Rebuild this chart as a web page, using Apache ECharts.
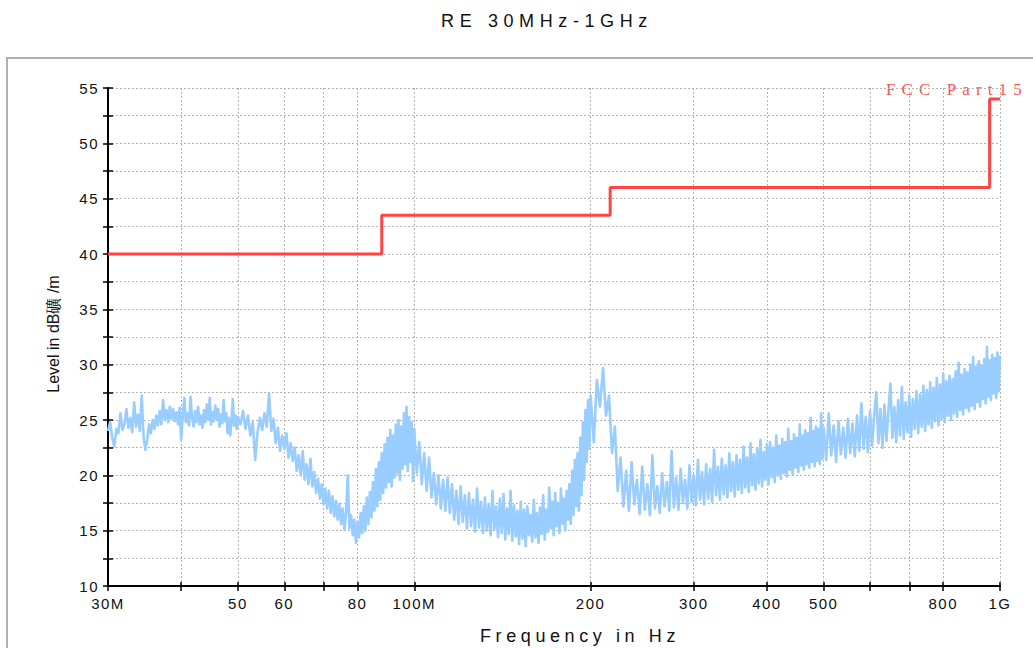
<!DOCTYPE html>
<html>
<head>
<meta charset="utf-8">
<script src="https://cdn.jsdelivr.net/npm/echarts@6/dist/echarts.min.js"></script>
<style>
  html, body { margin: 0; padding: 0; background: #fff; }
  #chart { width: 1033px; height: 648px; }
  #chart text[style*="15px"] { letter-spacing: 1.5px; }
  #chart text[style*="18px"][style*="Arial"] { letter-spacing: 5.6px; }
  #chart text[style*="Liberation Sans"] { letter-spacing: 4.6px; }
  #chart text[style*="Liberation Serif"] { letter-spacing: 6.1px; }
</style>
</head>
<body>
<div id="chart"></div>
<script>
// ---------------- data ----------------
const chartTitle = 'RE 30MHz-1GHz';
const xAxisName = 'Frequency in Hz';
const yAxisName = 'Level in dB礦 /m';
const limitName = 'FCC Part15';

// x axis ticks / labels (MHz)
const xTickMHz = [30, 40, 50, 60, 70, 80, 100, 200, 300, 400, 500, 600, 700, 800, 1000];
const xLabelMHz = [30, 50, 60, 80, 100, 200, 300, 400, 500, 800, 1000];
const xLabelText = ['30M', '50', '60', '80', '100M', '200', '300', '400', '500', '800', '1G'];

// y axis
const yMin = 10, yMax = 55, yStep = 2.5;

// FCC Part15 limit (step line, MHz / dBuV/m)
const limitFreqMHz = [30, 88, 216, 960, 1000];
const limitLevel = [40, 43.5, 46, 54, 54];

const levels30to50 = [
  24.0, 24.8, 23.4, 22.6, 24.2, 23.8, 25.6, 24.1, 24.6, 26.0, 24.3, 25.2, 23.9, 26.6, 24.4, 25.5,
  24.0, 27.2, 23.5, 22.3, 23.2, 24.6, 23.8, 25.0, 24.2, 25.4, 24.5, 25.8, 24.6, 26.8, 25.0, 25.9,
  24.8, 26.2, 25.1, 26.0, 24.9, 25.7, 24.6, 26.1, 23.2, 25.3, 27.0, 24.8, 25.6, 24.5, 27.1, 25.2,
  24.4, 25.8, 24.8, 26.2, 24.6, 25.4, 24.3, 25.9, 24.8, 26.4, 25.0, 27.0, 24.6, 25.7, 24.9, 26.3,
  25.1, 26.0, 24.4, 25.5, 24.7, 26.8, 24.9, 25.6, 23.8, 25.2, 23.6, 24.9, 26.9, 24.5, 25.4, 24.2,
  25.3
];
const levels50to100 = [
  24.6, 25.8, 24.2, 25.4, 23.6, 24.8, 21.4, 23.9, 25.2, 24.1, 25.6, 24.4, 27.4, 24.0, 25.1, 22.9,
  24.3, 22.2, 23.6, 22.4, 23.8, 21.6, 22.9, 21.3, 22.5, 20.4, 21.8, 20.0, 22.2, 19.6, 21.0, 19.2,
  21.5, 19.0, 20.3, 18.4, 19.7, 17.9, 19.2, 17.4, 18.8, 17.0, 18.6, 16.6, 18.1, 16.3, 17.7, 16.0,
  17.4, 15.6, 17.0, 15.1, 16.6, 20.0, 15.2, 16.4, 14.6, 16.0, 13.9, 15.8, 14.4, 16.6, 14.8, 17.2,
  15.0, 18.0, 15.6, 18.5, 16.2, 19.4, 16.8, 20.6, 17.2, 21.2, 17.8, 22.0, 18.4, 22.8, 18.9, 23.4,
  19.4, 24.1, 19.0, 23.6, 19.8, 24.6, 20.2, 25.0, 19.6, 24.4, 20.6, 25.6, 21.0, 26.2, 20.4, 25.3,
  21.2, 24.8, 19.5, 24.2
];
const levels100to200 = [
  20.2, 23.0, 19.2, 22.0, 18.6, 21.6, 18.0, 20.2, 17.4, 20.0, 17.0, 19.6, 16.8, 19.8, 16.6, 19.2,
  16.0, 18.6, 15.6, 19.0, 15.8, 18.2, 15.2, 18.4, 15.4, 17.8, 14.9, 18.8, 15.3, 17.6, 14.8, 18.0,
  15.0, 17.4, 14.6, 18.6, 15.1, 17.2, 14.4, 17.9, 14.8, 18.3, 14.2, 17.0, 14.7, 18.6, 14.1, 17.3,
  14.5, 16.8, 13.8, 17.6, 14.3, 16.9, 13.6, 17.2, 14.6, 16.4, 14.0, 17.8, 14.4, 16.6, 13.9, 17.1,
  14.7, 18.2, 14.2, 16.9, 14.9, 18.9, 15.2, 17.6, 14.6, 18.4, 15.4, 17.5, 14.8, 18.8, 15.6, 17.9,
  15.0, 18.6, 16.0, 19.2, 15.6, 20.4, 16.4, 21.4, 17.2, 22.0, 16.8, 23.4, 18.2, 24.8, 19.6, 25.9,
  21.2, 26.8, 22.4, 27.2
];
const levels200to500 = [
  23.0, 28.6, 26.2, 29.7, 25.4, 27.2, 22.0, 24.4, 18.6, 21.6, 17.2, 20.4, 16.8, 21.2, 17.4, 19.6,
  16.5, 20.8, 16.9, 19.2, 16.4, 21.8, 17.0, 19.0, 16.6, 20.2, 17.2, 19.4, 16.8, 22.2, 17.1, 19.8,
  16.9, 20.6, 17.5, 19.6, 17.0, 20.9, 17.6, 20.0, 17.3, 21.4, 17.8, 20.3, 17.4, 21.0, 17.9, 20.6,
  17.6, 22.3, 18.2, 20.8, 17.8, 21.5, 18.3, 20.9, 18.0, 22.0, 18.6, 21.2, 18.1, 21.8, 18.7, 21.4,
  18.4, 22.6, 18.9, 21.6, 18.5, 22.9, 19.1, 21.9, 18.7, 22.4, 19.3, 23.2, 19.0, 22.1, 19.6, 22.8,
  19.2, 23.0, 19.8, 22.5, 19.4, 23.6, 20.0, 22.7, 19.7, 23.3, 20.2, 23.0, 19.9, 24.2, 20.5, 23.1,
  20.1, 23.7, 20.7, 23.4, 20.3, 24.6, 20.9, 23.6, 20.5, 24.1, 21.0, 23.8, 20.7, 25.2, 21.2, 24.0,
  20.8, 24.4, 21.3, 24.2, 21.0, 25.6, 21.5, 24.3
];
const levels500to1000 = [
  21.4, 25.6, 21.8, 24.5, 21.2, 24.9, 21.9, 24.3, 21.6, 25.1, 22.0, 24.7, 21.7, 25.4, 22.2, 26.5,
  22.4, 25.3, 22.1, 25.8, 22.7, 25.5, 27.5, 22.9, 26.0, 22.5, 26.4, 23.1, 25.9, 28.3, 23.4, 26.2,
  23.0, 26.8, 23.6, 28.0, 23.3, 26.6, 23.9, 27.2, 23.5, 26.9, 24.2, 27.6, 23.8, 27.3, 24.4, 28.1,
  24.0, 27.7, 24.6, 28.4, 24.3, 27.9, 24.9, 28.8, 24.5, 28.2, 25.1, 29.2, 24.8, 28.5, 25.4, 29.0,
  25.0, 28.7, 25.6, 29.4, 25.3, 30.2, 25.9, 29.1, 25.5, 29.6, 26.1, 29.3, 25.8, 30.0, 26.3, 30.7,
  26.0, 29.8, 26.6, 30.3, 26.2, 29.9, 26.9, 30.5, 26.5, 31.6, 27.1, 30.4, 26.8, 30.9, 27.4, 30.6,
  27.0, 31.1, 27.6, 30.8
];
const sweepSegments = [
  { startMHz: 30, stepMHz: 0.25, levels: levels30to50 },
  { startMHz: 50.5, stepMHz: 0.5, levels: levels50to100 },
  { startMHz: 101, stepMHz: 1, levels: levels100to200 },
  { startMHz: 202.5, stepMHz: 2.5, levels: levels200to500 },
  { startMHz: 505, stepMHz: 5, levels: levels500to1000 }
];

// ---------------- build ----------------
const lg = Math.log10;
const traceData = [];
sweepSegments.forEach(seg => {
  seg.levels.forEach((v, i) => traceData.push([lg(seg.startMHz + i * seg.stepMHz), v]));
});
const limitData = limitFreqMHz.map((f, i) => [lg(f), limitLevel[i]]);

const gridLine = { show: true, lineStyle: { color: '#b4b4b4', width: 1, type: [2, 2] } };

const chart = echarts.init(document.getElementById('chart'), null, { renderer: 'svg' });
chart.setOption({
  animation: false,
  backgroundColor: '#ffffff',
  grid: { left: 108, right: 33, top: 88, bottom: 62, outerBoundsMode: 'none', containLabel: false },
  xAxis: [
    {
      type: 'value', min: lg(30), max: lg(1000), position: 'bottom',
      axisLine: { show: true, onZero: false, lineStyle: { color: '#000', width: 2 } },
      axisTick: { show: true, length: 5, customValues: xTickMHz.map(lg), lineStyle: { color: '#000', width: 1.5 } },
      axisLabel: {
        show: true, customValues: xLabelMHz.map(lg), margin: 10,
        fontSize: 15, fontFamily: 'Arial', color: '#111',
        formatter: function (val) {
          const idx = xLabelMHz.indexOf(Math.round(Math.pow(10, val)));
          return idx >= 0 ? xLabelText[idx] : '';
        }
      },
      splitLine: gridLine
    },
    {
      type: 'value', min: lg(30), max: lg(1000), position: 'bottom',
      axisLine: { show: false },
      axisTick: { show: true, inside: true, length: 4, customValues: xTickMHz.map(lg), lineStyle: { color: '#000', width: 1.5 } },
      axisLabel: { show: false },
      splitLine: { show: false }
    }
  ],
  yAxis: [
    {
      type: 'value', min: yMin, max: yMax, interval: yStep, position: 'left',
      axisLine: { show: true, lineStyle: { color: '#000', width: 2 } },
      axisTick: { show: true, length: 5, lineStyle: { color: '#000', width: 1.5 } },
      axisLabel: {
        margin: 9, fontSize: 15, fontFamily: 'Arial', color: '#111',
        formatter: v => (v % 5 === 0 ? String(v) : '')
      },
      splitLine: gridLine
    },
    {
      type: 'value', min: yMin, max: yMax, interval: yStep, position: 'left',
      axisLine: { show: false },
      axisTick: { show: true, inside: true, length: 5, lineStyle: { color: '#000', width: 1.5 } },
      axisLabel: { show: false },
      splitLine: { show: false }
    }
  ],
  series: [
    {
      name: 'Trace', type: 'line', xAxisIndex: 0, yAxisIndex: 0,
      data: traceData, showSymbol: false, symbol: 'none', sampling: false,
      lineStyle: { color: '#99ccff', width: 2.6, join: 'round' }, z: 2
    },
    {
      name: limitName, type: 'line', xAxisIndex: 0, yAxisIndex: 0,
      data: limitData, step: 'end', showSymbol: false, symbol: 'none',
      lineStyle: { color: '#ff4444', width: 3 }, z: 3
    }
  ],
  graphic: [
    {
      type: 'rect', z: 0, silent: true,
      shape: { x: 7, y: 58, width: 1100, height: 700 },
      style: { fill: 'none', stroke: '#b0b0b0', lineWidth: 2 }
    },
    {
      type: 'text', x: 547, y: 21, silent: true,
      style: { text: chartTitle, fontSize: 18, fontFamily: 'Arial', fill: '#111', textAlign: 'center', textVerticalAlign: 'middle' }
    },
    {
      type: 'text', x: 580, y: 636, silent: true,
      style: { text: xAxisName, fontSize: 18, fontFamily: 'Liberation Sans', fill: '#111', textAlign: 'center', textVerticalAlign: 'middle' }
    },
    {
      type: 'text', x: 53, y: 334, rotation: Math.PI / 2, silent: true,
      style: { text: yAxisName, fontSize: 16, fontFamily: 'Arial', fill: '#111', textAlign: 'center', textVerticalAlign: 'middle' }
    },
    {
      type: 'text', x: 886, y: 89, silent: true,
      style: { text: limitName, fontSize: 17, fontFamily: 'Liberation Serif', fill: '#ff5252', textAlign: 'left', textVerticalAlign: 'middle' }
    }
  ]
});
</script>
</body>
</html>
